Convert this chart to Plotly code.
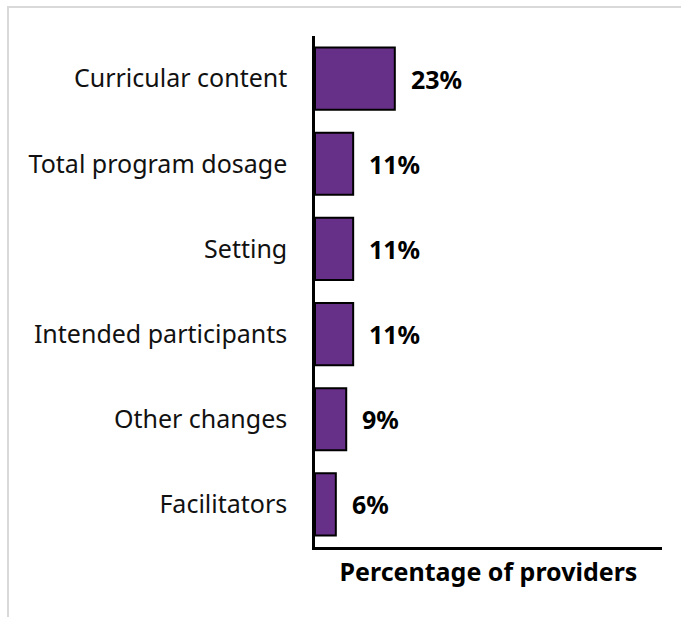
import plotly.graph_objects as go

# Share of providers reporting each type of program adaptation
categories = ["Curricular content", "Total program dosage", "Setting",
              "Intended participants", "Other changes", "Facilitators"]
values = [23, 11, 11, 11, 9, 6]
value_labels = ["23%", "11%", "11%", "11%", "9%", "6%"]

FONT = "Noto Sans"
PURPLE = "#673088"

W, H = 681, 617
L, R, T, B = 315, 19, 36, 70

fig = go.Figure(go.Bar(
    x=values,
    y=categories,
    orientation="h",
    width=0.73,
    marker=dict(color=PURPLE, line=dict(color="black", width=2)),
    hoverinfo="skip",
))

# Bold value labels just past each bar end
for cat, v, lab in zip(categories, values, value_labels):
    fig.add_annotation(x=v, y=cat, text=f"<b>{lab}</b>", showarrow=False,
                       xanchor="left", xshift=14,
                       font=dict(family=FONT, size=25, color="black"))

# Thin light-grey frame around the chart
pw, ph = W - L - R, H - T - B
fig.add_shape(type="rect", xref="paper", yref="paper",
              x0=(8 - L) / pw, x1=(W + 10 - L) / pw,
              y0=-(H + 10 - (H - B)) / ph, y1=(H - B - 7) / ph,
              line=dict(color="#d9d9d9", width=2), fillcolor="rgba(0,0,0,0)",
              layer="below")

fig.update_layout(
    width=W, height=H,
    margin=dict(l=L, r=R, t=T, b=B),
    paper_bgcolor="white", plot_bgcolor="white",
    showlegend=False,
    font=dict(family=FONT, size=25, color="black"),
    xaxis=dict(range=[0, 100], showticklabels=False, ticks="",
               showgrid=False, zeroline=False,
               showline=True, linecolor="black", linewidth=2.5,
               title=dict(text="<b>Percentage of providers</b>",
                          font=dict(family=FONT, size=25, color="black"),
                          standoff=15)),
    yaxis=dict(autorange="reversed", showgrid=False, zeroline=False,
               showline=True, linecolor="black", linewidth=2.5,
               ticks="", ticklabelstandoff=20,
               tickfont=dict(family=FONT, size=25, color="#111111")),
    bargap=0.27,
)

fig.write_html("out.html")
